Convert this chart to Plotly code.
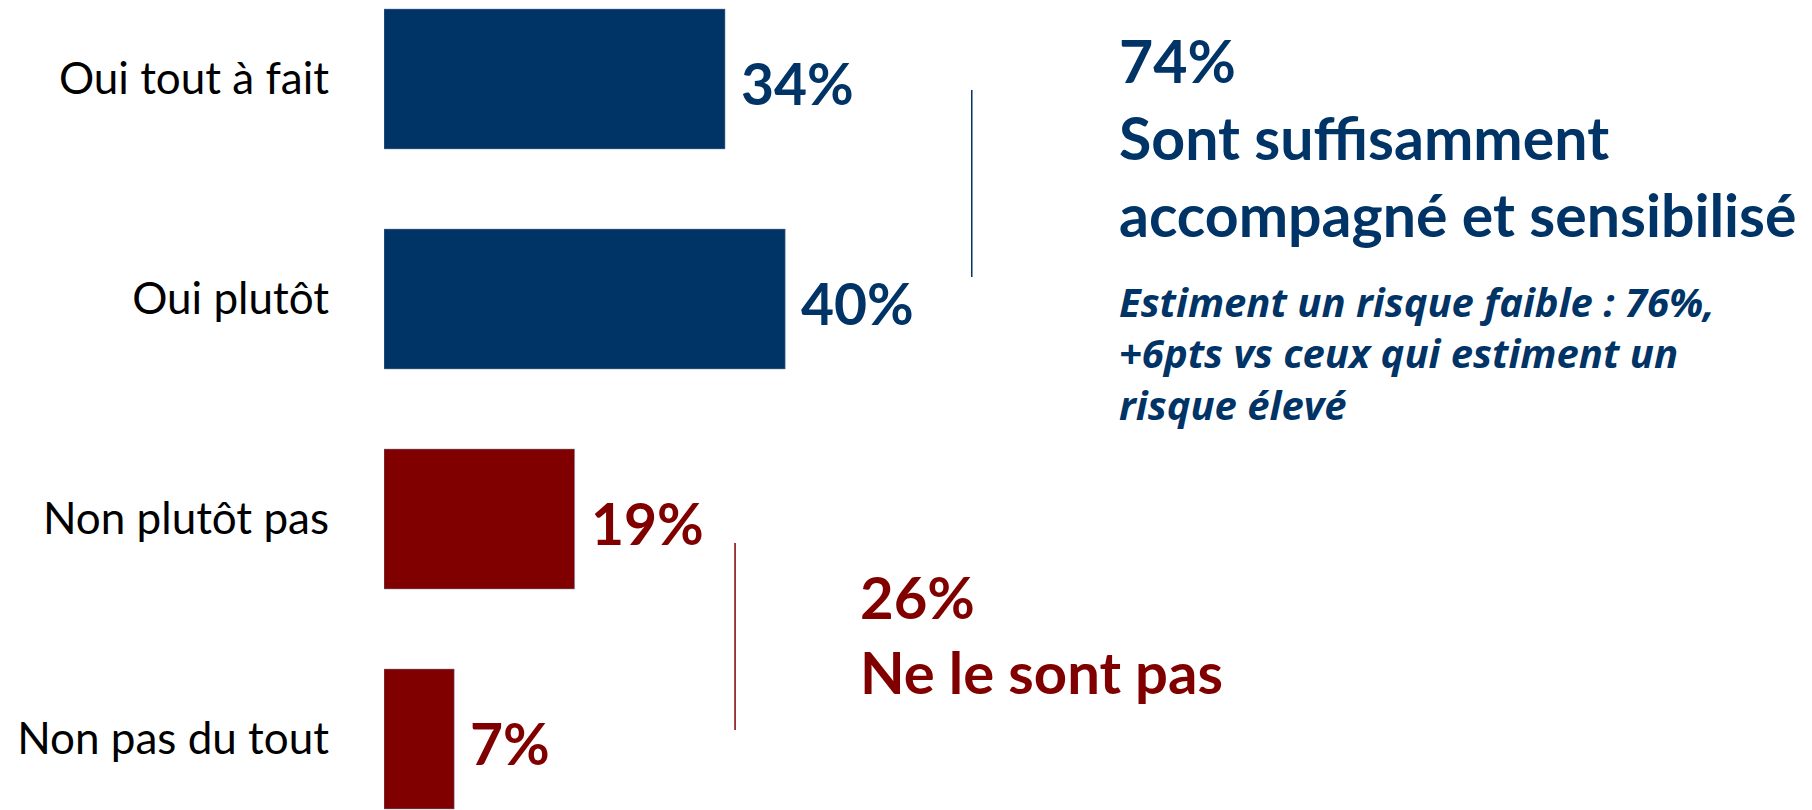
import plotly.graph_objects as go

categories = ["Oui tout à fait", "Oui plutôt", "Non plutôt pas", "Non pas du tout"]
values = [34, 40, 19, 7]
bar_colors = ["#003366", "#003366", "#800000", "#800000"]

BLUE = "#003366"
RED = "#800000"
FONT = "Lato"

fig = go.Figure()
fig.add_trace(go.Bar(
    x=values, y=categories, orientation="h",
    marker=dict(color=bar_colors, line=dict(width=1, color="rgba(120,140,170,0.5)")),
    width=0.636, hoverinfo="skip",
))

# value labels
for c, v, col in zip(categories, values, bar_colors):
    fig.add_annotation(x=v, y=c, xref="x", yref="y", text=f"<b>{v}%</b>",
                       showarrow=False, xanchor="left", yanchor="middle",
                       xshift=14, yshift=-4,
                       font=dict(family=FONT, size=57, color=col))

# bracket lines
fig.add_shape(type="line", xref="x", yref="y", x0=58.6, x1=58.6, y0=0.05, y1=0.9,
              line=dict(color=BLUE, width=1.5))
fig.add_shape(type="line", xref="x", yref="y", x0=35.0, x1=35.0, y0=2.109, y1=2.959,
              line=dict(color=RED, width=1.5))

def txt(x, y, s, size, color, italic=False, family=FONT):
    t = f"<b>{s}</b>"
    if italic:
        t = f"<i>{t}</i>"
    fig.add_annotation(x=x, y=y, xref="x", yref="y", text=t, showarrow=False,
                       xanchor="left", yanchor="middle",
                       font=dict(family=family, size=size, color=color))

txt(73.1, -0.085, "74%", 59, BLUE)
txt(73.1, 0.268, "Sont suffisamment", 59, BLUE)
txt(73.1, 0.615, "accompagné et sensibilisé", 59, BLUE)
txt(73.1, 1.010, "Estiment un risque faible : 76%,", 40, BLUE, italic=True, family="Open Sans")
txt(73.1, 1.245, "+6pts vs ceux qui estiment un", 40, BLUE, italic=True, family="Open Sans")
txt(73.1, 1.480, "risque élevé", 40, BLUE, italic=True, family="Open Sans")

txt(47.3, 2.350, "26%", 58, RED)
txt(47.3, 2.695, "Ne le sont pas", 58, RED)

fig.update_layout(
    width=1804, height=810,
    margin=dict(l=376, r=0, t=0, b=0),
    plot_bgcolor="white", paper_bgcolor="white",
    showlegend=False,
    font=dict(family=FONT),
)
fig.update_xaxes(range=[0, 142.37], visible=False, showgrid=False, zeroline=False)
fig.update_yaxes(range=[3.359, -0.3227], showgrid=False, zeroline=False, showline=False,
                 ticks="", ticklabelstandoff=54,
                 tickfont=dict(family=FONT, size=44, color="black"))

fig.write_html("out.html")
